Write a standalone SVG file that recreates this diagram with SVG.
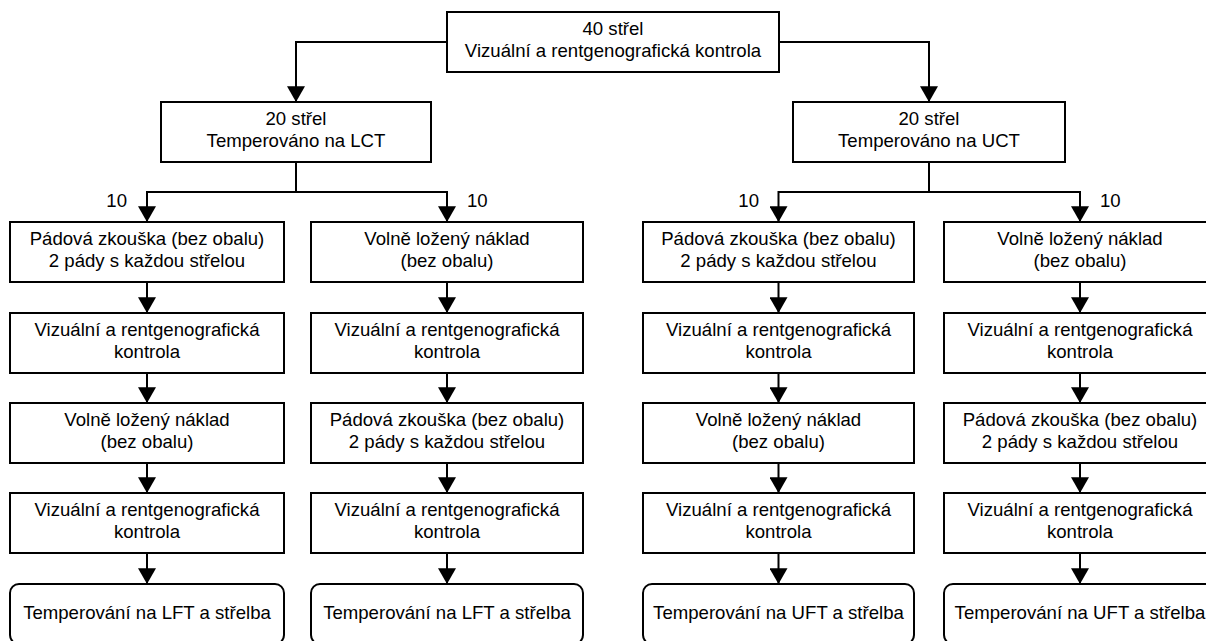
<svg xmlns="http://www.w3.org/2000/svg" width="1206" height="641" viewBox="0 0 1206 641">
  <style>
    .box { fill: #ffffff; stroke: #000000; stroke-width: 2; }
    .end { fill: #ffffff; stroke: #000000; stroke-width: 2; }
    .lbl { font-family: "Liberation Sans", Arial, sans-serif; font-size: 18.6px; fill: #000000; text-anchor: middle; }
    .num { font-family: "Liberation Sans", Arial, sans-serif; font-size: 18.6px; fill: #000000; }
    .wire { fill: none; stroke: #000000; stroke-width: 2; }
    .arrow { fill: none; stroke: #000000; stroke-width: 2; marker-end: url(#head); }
  </style>
  <defs>
    <marker id="head" markerUnits="userSpaceOnUse" markerWidth="16" markerHeight="18" refX="14" refY="8" orient="auto" viewBox="0 0 14 16">
      <path d="M0,0 L14,8 L0,16 Z" fill="#000000"/>
    </marker>
  </defs>

  <rect width="1206" height="641" fill="#ffffff"/>

  <!-- connectors -->
  <g id="connectors">
    <!-- root to the two temperature groups -->
    <path class="arrow" d="M447,42 H296 V102"/>
    <path class="arrow" d="M779,42 H929 V102"/>
    <!-- LCT split -->
    <path class="wire" d="M296,162 V192"/>
    <path class="arrow" d="M296,192 H147 V222"/>
    <path class="arrow" d="M296,192 H447 V222"/>
    <!-- UCT split -->
    <path class="wire" d="M929,162 V192"/>
    <path class="arrow" d="M929,192 H778.5 V222"/>
    <path class="arrow" d="M929,192 H1080 V222"/>
    <!-- column chains -->
    <path class="arrow" d="M147,282 V313"/>
    <path class="arrow" d="M147,373 V403"/>
    <path class="arrow" d="M147,463 V493"/>
    <path class="arrow" d="M147,553 V584"/>
    <path class="arrow" d="M447,282 V313"/>
    <path class="arrow" d="M447,373 V403"/>
    <path class="arrow" d="M447,463 V493"/>
    <path class="arrow" d="M447,553 V584"/>
    <path class="arrow" d="M778.5,282 V313"/>
    <path class="arrow" d="M778.5,373 V403"/>
    <path class="arrow" d="M778.5,463 V493"/>
    <path class="arrow" d="M778.5,553 V584"/>
    <path class="arrow" d="M1080,282 V313"/>
    <path class="arrow" d="M1080,373 V403"/>
    <path class="arrow" d="M1080,463 V493"/>
    <path class="arrow" d="M1080,553 V584"/>
    <!-- split counts -->
    <text class="num" x="127" y="207" text-anchor="end">10</text>
    <text class="num" x="467" y="207">10</text>
    <text class="num" x="759" y="207" text-anchor="end">10</text>
    <text class="num" x="1100" y="207">10</text>
  </g>

  <!-- root -->
  <g id="root">
    <rect class="box" x="447" y="12" width="332" height="60"/>
    <text class="lbl" x="613" y="35">40 střel</text>
    <text class="lbl" x="613" y="57">Vizuální a rentgenografická kontrola</text>
  </g>

  <!-- temperature groups -->
  <g id="lct">
    <rect class="box" x="161" y="102" width="270" height="60"/>
    <text class="lbl" x="296" y="125">20 střel</text>
    <text class="lbl" x="296" y="147">Temperováno na LCT</text>
  </g>
  <g id="uct">
    <rect class="box" x="793" y="102" width="272" height="60"/>
    <text class="lbl" x="929" y="125">20 střel</text>
    <text class="lbl" x="929" y="147">Temperováno na UCT</text>
  </g>

  <!-- column 1 (LCT, drop first) -->
  <g id="c1r1">
    <rect class="box" x="10" y="222" width="274" height="60"/>
    <text class="lbl" x="147" y="245">Pádová zkouška (bez obalu)</text>
    <text class="lbl" x="147" y="267">2 pády s každou střelou</text>
  </g>
  <g id="c1r2">
    <rect class="box" x="10" y="313" width="274" height="60"/>
    <text class="lbl" x="147" y="336">Vizuální a rentgenografická</text>
    <text class="lbl" x="147" y="358">kontrola</text>
  </g>
  <g id="c1r3">
    <rect class="box" x="10" y="403" width="274" height="60"/>
    <text class="lbl" x="147" y="426">Volně ložený náklad</text>
    <text class="lbl" x="147" y="448">(bez obalu)</text>
  </g>
  <g id="c1r4">
    <rect class="box" x="10" y="493" width="274" height="60"/>
    <text class="lbl" x="147" y="516">Vizuální a rentgenografická</text>
    <text class="lbl" x="147" y="538">kontrola</text>
  </g>
  <g id="c1r5">
    <rect class="end" x="10" y="584" width="274" height="60" rx="9"/>
    <text class="lbl" x="147" y="619">Temperování na LFT a střelba</text>
  </g>

  <!-- column 2 (LCT, loose cargo first) -->
  <g id="c2r1">
    <rect class="box" x="311" y="222" width="272" height="60"/>
    <text class="lbl" x="447" y="245">Volně ložený náklad</text>
    <text class="lbl" x="447" y="267">(bez obalu)</text>
  </g>
  <g id="c2r2">
    <rect class="box" x="311" y="313" width="272" height="60"/>
    <text class="lbl" x="447" y="336">Vizuální a rentgenografická</text>
    <text class="lbl" x="447" y="358">kontrola</text>
  </g>
  <g id="c2r3">
    <rect class="box" x="311" y="403" width="272" height="60"/>
    <text class="lbl" x="447" y="426">Pádová zkouška (bez obalu)</text>
    <text class="lbl" x="447" y="448">2 pády s každou střelou</text>
  </g>
  <g id="c2r4">
    <rect class="box" x="311" y="493" width="272" height="60"/>
    <text class="lbl" x="447" y="516">Vizuální a rentgenografická</text>
    <text class="lbl" x="447" y="538">kontrola</text>
  </g>
  <g id="c2r5">
    <rect class="end" x="311" y="584" width="272" height="60" rx="9"/>
    <text class="lbl" x="447" y="619">Temperování na LFT a střelba</text>
  </g>

  <!-- column 3 (UCT, drop first) -->
  <g id="c3r1">
    <rect class="box" x="643" y="222" width="271" height="60"/>
    <text class="lbl" x="778.5" y="245">Pádová zkouška (bez obalu)</text>
    <text class="lbl" x="778.5" y="267">2 pády s každou střelou</text>
  </g>
  <g id="c3r2">
    <rect class="box" x="643" y="313" width="271" height="60"/>
    <text class="lbl" x="778.5" y="336">Vizuální a rentgenografická</text>
    <text class="lbl" x="778.5" y="358">kontrola</text>
  </g>
  <g id="c3r3">
    <rect class="box" x="643" y="403" width="271" height="60"/>
    <text class="lbl" x="778.5" y="426">Volně ložený náklad</text>
    <text class="lbl" x="778.5" y="448">(bez obalu)</text>
  </g>
  <g id="c3r4">
    <rect class="box" x="643" y="493" width="271" height="60"/>
    <text class="lbl" x="778.5" y="516">Vizuální a rentgenografická</text>
    <text class="lbl" x="778.5" y="538">kontrola</text>
  </g>
  <g id="c3r5">
    <rect class="end" x="643" y="584" width="271" height="60" rx="9"/>
    <text class="lbl" x="778.5" y="619">Temperování na UFT a střelba</text>
  </g>

  <!-- column 4 (UCT, loose cargo first) -->
  <g id="c4r1">
    <rect class="box" x="944" y="222" width="272" height="60"/>
    <text class="lbl" x="1080" y="245">Volně ložený náklad</text>
    <text class="lbl" x="1080" y="267">(bez obalu)</text>
  </g>
  <g id="c4r2">
    <rect class="box" x="944" y="313" width="272" height="60"/>
    <text class="lbl" x="1080" y="336">Vizuální a rentgenografická</text>
    <text class="lbl" x="1080" y="358">kontrola</text>
  </g>
  <g id="c4r3">
    <rect class="box" x="944" y="403" width="272" height="60"/>
    <text class="lbl" x="1080" y="426">Pádová zkouška (bez obalu)</text>
    <text class="lbl" x="1080" y="448">2 pády s každou střelou</text>
  </g>
  <g id="c4r4">
    <rect class="box" x="944" y="493" width="272" height="60"/>
    <text class="lbl" x="1080" y="516">Vizuální a rentgenografická</text>
    <text class="lbl" x="1080" y="538">kontrola</text>
  </g>
  <g id="c4r5">
    <rect class="end" x="944" y="584" width="272" height="60" rx="9"/>
    <text class="lbl" x="1080" y="619">Temperování na UFT a střelba</text>
  </g>
</svg>
